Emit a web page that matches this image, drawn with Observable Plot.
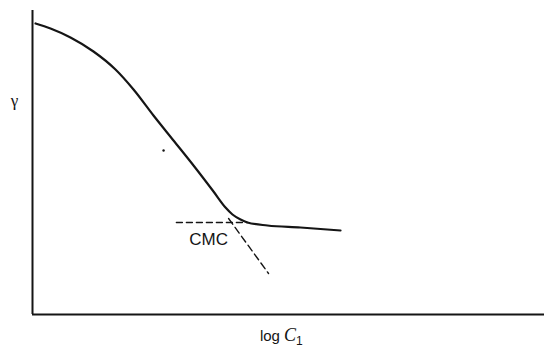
<!DOCTYPE html>
<html>
<head>
<meta charset="utf-8">
<script src="https://cdn.jsdelivr.net/npm/d3@7"></script>
<script src="https://cdn.jsdelivr.net/npm/@observablehq/plot@0.6"></script>
<style>
  html, body { margin: 0; padding: 0; background: #fff; }
  #chart svg { display: block; }
</style>
</head>
<body>
<div id="chart"></div>
<script>
// Surface tension (gamma) vs log C1, arbitrary units
const logC = [0.059, 0.352, 0.742, 1.191, 1.621, 1.973, 2.363, 2.754, 3.145, 3.535, 3.770, 3.906, 4.063, 4.199, 4.590, 5.234, 6.016];
const gamma = [72.75, 71.5, 69.25, 65.75, 61.25, 56.25, 49.75, 43.5, 37.25, 30.75, 26.75, 25, 23.75, 23, 22.25, 21.75, 21];
// Extrapolated (dashed) lines meeting at the CMC
const flatX = [2.81, 4.20];
const flatY = [23, 23];
const steepX = [3.83, 4.61];
const steepY = [24, 10.25];
const stray = [{x: 2.56, y: 41}];
const cmcLabel = "CMC";
const xLabel = "log C1";
const yLabel = "γ";

const curve = logC.map((x, i) => ({x, y: gamma[i]}));
const flat = flatX.map((x, i) => ({x, y: flatY[i]}));
const steep = steepX.map((x, i) => ({x, y: steepY[i]}));

const ink = "#151515";

const chart = Plot.plot({
  width: 544,
  height: 351,
  marginLeft: 32,
  marginRight: 0,
  marginTop: 10,
  marginBottom: 37,
  x: {domain: [0, 10], axis: null},
  y: {domain: [0, 76], axis: null},
  style: {background: "#fff", fontFamily: "'Liberation Sans', Arial, sans-serif"},
  marks: [
    Plot.ruleX([0], {stroke: ink, strokeWidth: 2}),
    Plot.ruleY([0], {stroke: ink, strokeWidth: 2}),
    Plot.line(flat, {x: "x", y: "y", stroke: ink, strokeWidth: 1.4, strokeDasharray: "6,4"}),
    Plot.line(steep, {x: "x", y: "y", stroke: ink, strokeWidth: 1.4, strokeDasharray: "7,4"}),
    Plot.line(curve, {x: "x", y: "y", stroke: ink, strokeWidth: 2.2, curve: "monotone-x"}),
    Plot.dot(stray, {x: "x", y: "y", r: 1.2, fill: ink, stroke: null}),
    Plot.text([cmcLabel], {x: 3.44, y: 18.75, text: d => d, fontSize: 17, fill: ink, textAnchor: "middle", className: "cmc"}),
    Plot.text([xLabel], {x: 4.86, y: -6.5, text: d => d, fontSize: 15, fill: ink, textAnchor: "middle", lineAnchor: "bottom", className: "xlab"}),
    Plot.text([yLabel], {x: -0.35, y: 53.5, text: d => d, fontSize: 17, fill: ink, textAnchor: "middle", className: "ylab"})
  ]
});

// Style the x label as "log C₁" with italic C and subscript 1
const xl = chart.querySelector(".xlab text");
if (xl) {
  xl.textContent = "";
  const t1 = document.createElementNS("http://www.w3.org/2000/svg", "tspan");
  t1.textContent = "log ";
  const t2 = document.createElementNS("http://www.w3.org/2000/svg", "tspan");
  t2.textContent = "C";
  t2.setAttribute("font-style", "italic");
  t2.setAttribute("font-family", "'Liberation Serif', 'DejaVu Serif', serif");
  t2.setAttribute("font-size", "18");
  const t3 = document.createElementNS("http://www.w3.org/2000/svg", "tspan");
  t3.textContent = "1";
  t3.setAttribute("font-size", "12");
  t3.setAttribute("dy", "4");
  xl.append(t1, t2, t3);
}
const yl = chart.querySelector(".ylab text");
if (yl) yl.setAttribute("font-family", "'Liberation Serif', 'DejaVu Serif', serif");

document.getElementById("chart").append(chart);
</script>
</body>
</html>
